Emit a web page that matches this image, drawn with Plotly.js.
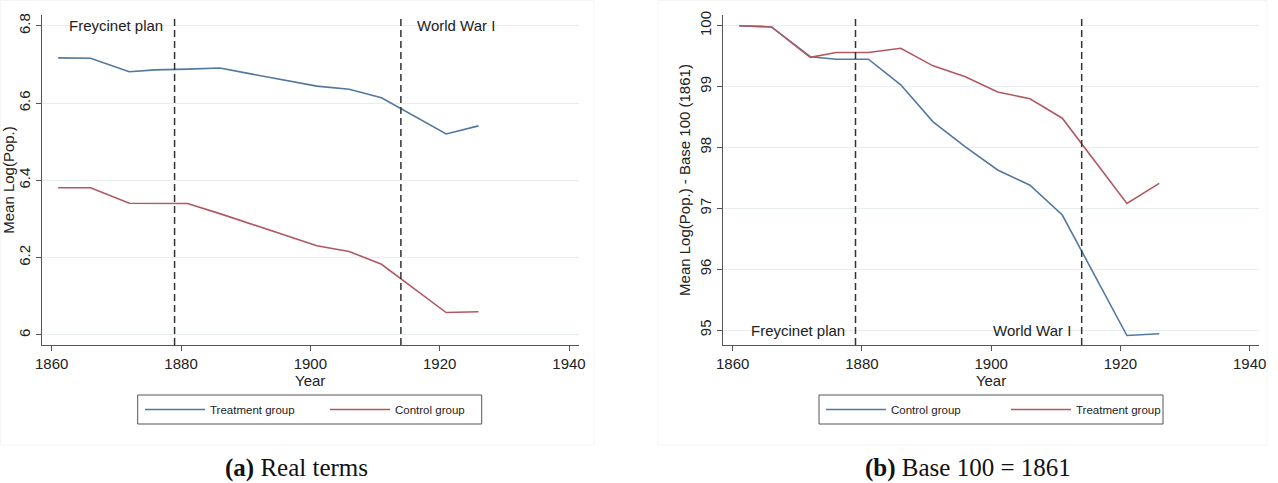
<!DOCTYPE html>
<html>
<head>
<meta charset="utf-8">
<script src="https://cdn.plot.ly/plotly-3.0.1.min.js"></script>
<style>
  html, body { margin: 0; padding: 0; background: #ffffff; }
  #chart { width: 1278px; height: 483px; }
</style>
</head>
<body>
<div id="chart"></div>
<script>
// ---------------- data ----------------
const years = [1861, 1866, 1872, 1876, 1881, 1886, 1891, 1896, 1901, 1906, 1911, 1921, 1926];

// Panel (a): real terms, mean log population
const realTreatment = [6.717, 6.716, 6.681, 6.686, 6.688, 6.691, 6.675, 6.660, 6.644, 6.636, 6.614, 6.520, 6.541];
const realControl   = [6.381, 6.381, 6.341, 6.340, 6.340, 6.314, 6.286, 6.257, 6.231, 6.216, 6.183, 6.058, 6.060];

// Panel (b): base 100 = 1861
const baseControl   = [100.00, 99.98, 99.49, 99.45, 99.45, 99.03, 98.42, 98.01, 97.63, 97.38, 96.89, 94.91, 94.94];
const baseTreatment = [100.00, 99.98, 99.48, 99.56, 99.56, 99.63, 99.34, 99.16, 98.91, 98.80, 98.48, 97.08, 97.41];

// events
const eventYears  = [1879, 1914];
const eventLabels = ['Freycinet plan', 'World War I'];

// ticks
const xTicks = [1860, 1880, 1900, 1920, 1940];
const yTicksA = [6, 6.2, 6.4, 6.6, 6.8];
const yTickTextA = ['6', '6.2', '6.4', '6.6', '6.8'];
const yTicksB = [95, 96, 97, 98, 99, 100];
const yTickTextB = ['95', '96', '97', '98', '99', '100'];

const seriesNames = { treatment: 'Treatment group', control: 'Control group' };
const captions = ['<b>(a)</b> Real terms', '<b>(b)</b> Base 100 = 1861'];

// ---------------- styling ----------------
const W = 1278, H = 483;
const px = v => v / W;
const py = v => 1 - v / H;

const BLUE = '#52789f';
const RED = '#b15862';
const SANS = '"Liberation Sans", Arial, Helvetica, sans-serif';
const SERIF = '"Liberation Serif", "Times New Roman", serif';
const AX = '#555555';
const TXT = '#222222';

const traces = [
  { x: years, y: realTreatment, name: seriesNames.treatment, xaxis: 'x', yaxis: 'y', legend: 'legend',
    mode: 'lines', line: { color: BLUE, width: 1.6 } },
  { x: years, y: realControl, name: seriesNames.control, xaxis: 'x', yaxis: 'y', legend: 'legend',
    mode: 'lines', line: { color: RED, width: 1.6 } },
  { x: years, y: baseControl, name: seriesNames.control, xaxis: 'x2', yaxis: 'y2', legend: 'legend2',
    mode: 'lines', line: { color: BLUE, width: 1.6 } },
  { x: years, y: baseTreatment, name: seriesNames.treatment, xaxis: 'x2', yaxis: 'y2', legend: 'legend2',
    mode: 'lines', line: { color: RED, width: 1.6 } }
];

function xAxis(domain, anchor) {
  return {
    domain: domain, anchor: anchor, range: [1858.45, 1941.5],
    tickmode: 'array', tickvals: xTicks, ticktext: xTicks.map(String),
    ticks: 'outside', ticklen: 5, tickcolor: AX, tickwidth: 1,
    showline: true, linecolor: AX, linewidth: 1,
    showgrid: false, zeroline: false,
    tickfont: { family: SANS, size: 15, color: TXT },
    title: { text: 'Year', font: { family: SANS, size: 15, color: TXT }, standoff: 2 }
  };
}
function yAxis(domain, anchor, range, vals, text, title) {
  return {
    domain: domain, anchor: anchor, range: range,
    tickmode: 'array', tickvals: vals, ticktext: text, tickangle: -90,
    ticks: 'outside', ticklen: 5, tickcolor: AX, tickwidth: 1,
    showline: true, linecolor: AX, linewidth: 1,
    showgrid: true, gridcolor: '#e8edf0', gridwidth: 1, zeroline: false,
    tickfont: { family: SANS, size: 15, color: TXT },
    title: { text: title, font: { family: SANS, size: 15, color: TXT }, standoff: 2 }
  };
}

const yDom = [py(345), py(15)];

const shapes = [];
// faint graph-region frames
shapes.push({ type: 'rect', xref: 'paper', yref: 'paper', x0: px(0.5), x1: px(594), y0: py(445), y1: py(0.5),
  line: { color: '#f5f5f5', width: 1 }, layer: 'below' });
shapes.push({ type: 'rect', xref: 'paper', yref: 'paper', x0: px(658), x1: px(1267), y0: py(445), y1: py(0.5),
  line: { color: '#f5f5f5', width: 1 }, layer: 'below' });
// event lines
['x', 'x2'].forEach(xr => {
  eventYears.forEach(yr => {
    shapes.push({ type: 'line', xref: xr, yref: (xr === 'x' ? 'y' : 'y2') + ' domain', x0: yr, x1: yr, y0: 0, y1: 1,
      line: { color: '#333333', width: 1.5, dash: '7px,4px' } });
  });
});
// legend frames
shapes.push({ type: 'rect', xref: 'paper', yref: 'paper', x0: px(137.7), x1: px(481.7), y0: py(424), y1: py(395),
  line: { color: '#555555', width: 1 }, fillcolor: 'rgba(0,0,0,0)' });
shapes.push({ type: 'rect', xref: 'paper', yref: 'paper', x0: px(819), x1: px(1163), y0: py(424), y1: py(395),
  line: { color: '#555555', width: 1 }, fillcolor: 'rgba(0,0,0,0)' });

const annFont = { family: SANS, size: 15, color: TXT };
const capFont = { family: SERIF, size: 25, color: '#111111' };
const annotations = [
  { xref: 'x', yref: 'y', x: eventYears[0], y: 6.8, text: eventLabels[0], showarrow: false,
    xanchor: 'right', yanchor: 'middle', xshift: -10, font: annFont },
  { xref: 'x', yref: 'y', x: eventYears[1], y: 6.8, text: eventLabels[1], showarrow: false,
    xanchor: 'left', yanchor: 'middle', xshift: 14, font: annFont },
  { xref: 'x2', yref: 'y2', x: eventYears[0], y: 95, text: eventLabels[0], showarrow: false,
    xanchor: 'right', yanchor: 'middle', xshift: -9, font: annFont },
  { xref: 'x2', yref: 'y2', x: eventYears[1], y: 95, text: eventLabels[1], showarrow: false,
    xanchor: 'right', yanchor: 'middle', xshift: -9, font: annFont },
  { xref: 'paper', yref: 'paper', x: px(296), y: 0, text: captions[0], showarrow: false,
    xanchor: 'center', yanchor: 'bottom', borderpad: 0, font: capFont },
  { xref: 'paper', yref: 'paper', x: px(968), y: 0, text: captions[1], showarrow: false,
    xanchor: 'center', yanchor: 'bottom', borderpad: 0, font: capFont }
];

function legendCfg(xLeft) {
  return {
    orientation: 'h', x: px(xLeft), y: py(409.5), xanchor: 'left', yanchor: 'middle',
    bgcolor: 'rgba(0,0,0,0)', borderwidth: 0,
    font: { family: SANS, size: 11.5, color: TXT },
    itemwidth: 60, entrywidth: 110, entrywidthmode: 'pixels', traceorder: 'normal'
  };
}

const layout = {
  width: W, height: H,
  margin: { l: 0, r: 0, t: 0, b: 0, pad: 0 },
  paper_bgcolor: '#ffffff', plot_bgcolor: '#ffffff',
  showlegend: true,
  xaxis: xAxis([px(41.7), px(578.7)], 'y'),
  yaxis: yAxis(yDom, 'x', [5.974, 6.828], yTicksA, yTickTextA, 'Mean Log(Pop.)'),
  xaxis2: xAxis([px(722.7), px(1259.4)], 'y2'),
  yaxis2: yAxis(yDom, 'x2', [94.754, 100.176], yTicksB, yTickTextB, 'Mean Log(Pop.) - Base 100 (1861)'),
  legend: legendCfg(140),
  legend2: legendCfg(821),
  shapes: shapes,
  annotations: annotations
};

Plotly.newPlot('chart', traces, layout, { displayModeBar: false, staticPlot: true });
</script>
</body>
</html>
